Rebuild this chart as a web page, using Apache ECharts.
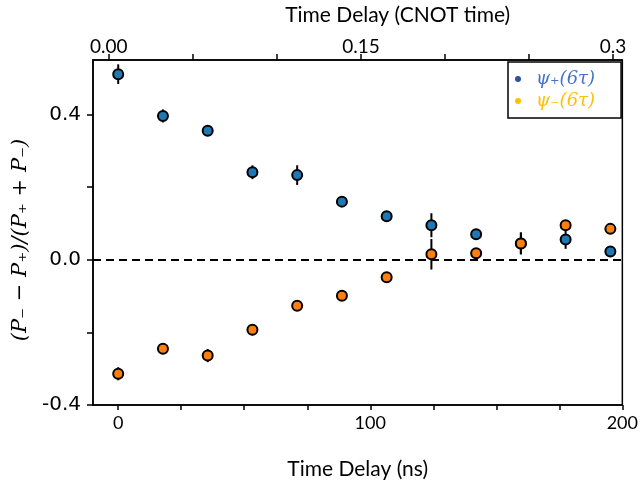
<!DOCTYPE html>
<html>
<head>
<meta charset="utf-8">
<script src="https://cdn.jsdelivr.net/npm/echarts@6/dist/echarts.min.js"></script>
<style>html,body{margin:0;padding:0;background:#fff}#c{width:641px;height:489px}</style>
</head>
<body>
<div id="c"></div>
<script>
// ---- data ----
const delaysNs = [0, 17.75, 35.5, 53.25, 71, 88.75, 106.5, 124.25, 142, 159.75, 177.5, 195.25];
const plusVals = [0.511, 0.396, 0.355, 0.241, 0.233, 0.160, 0.120, 0.095, 0.070, 0.045, 0.056, 0.023];
const plusErr  = [0.027, 0.018, 0.010, 0.019, 0.027, 0.010, 0.010, 0.033, 0.010, 0.030, 0.026, 0.010];
const minusVals = [-0.314, -0.245, -0.264, -0.193, -0.127, -0.099, -0.048, 0.015, 0.018, 0.045, 0.095, 0.085];
const minusErr  = [0.018, 0.015, 0.018, 0.015, 0.010, 0.010, 0.010, 0.042, 0.010, 0.030, 0.010, 0.010];
const seriesNames = ['ψ₊(6τ)', 'ψ₋(6τ)'];

const bottomTicks = [0, 25, 50, 75, 100, 125, 150, 175, 200];
const bottomLabels = [0, 100, 200];
const topTicks = [0, 0.05, 0.1, 0.15, 0.2, 0.25, 0.3];
const topLabelValues = [0, 0.15, 0.3];
const topLabelTexts = ['0.00', '0.15', '0.3'];
const yTicks = [-0.4, -0.2, 0, 0.2, 0.4];
const yLabels = [-0.4, 0, 0.4];

// ---- build ----
const pts = (vals) => delaysNs.map((x, i) => [x, vals[i]]);
const errs = (vals, e) => delaysNs.map((x, i) => [x, vals[i] - e[i], vals[i] + e[i]]);

function errRender(params, api) {
  const p1 = api.coord([api.value(0), api.value(1)]);
  const p2 = api.coord([api.value(0), api.value(2)]);
  return { type: 'line', shape: { x1: p1[0], y1: p1[1], x2: p2[0], y2: p2[1] },
           style: { stroke: '#000', lineWidth: 2 } };
}

const labelFont = 'Lato';
const chart = echarts.init(document.getElementById('c'), null, { renderer: 'canvas' });
chart.setOption({
  animation: false,
  backgroundColor: '#fff',
  grid: { left: 93, right: 14, top: 58, bottom: 84, show: true, borderColor: '#000', borderWidth: 1.5 },
  legend: {
    left: 508, top: 62, orient: 'vertical',
    borderColor: '#000', borderWidth: 1.5, borderRadius: 0,
    padding: [8, 26, 8, 7], itemGap: 4,
    icon: 'circle', itemWidth: 6, itemHeight: 6,
    data: [
      { name: seriesNames[0], itemStyle: { color: '#2f4f9f', borderWidth: 0 }, textStyle: { color: '#4472c4' } },
      { name: seriesNames[1], itemStyle: { color: '#ffc000', borderWidth: 0 }, textStyle: { color: '#ffc000' } }
    ],
    textStyle: { fontFamily: 'DejaVu Serif', fontStyle: 'italic', fontSize: 18, padding: [0, 0, 0, 10] }
  },
  xAxis: [
    {
      type: 'value', position: 'bottom', min: -10, max: 200,
      splitLine: { show: false },
      axisLine: { onZero: false, lineStyle: { color: '#000', width: 1.5 } },
      axisTick: { show: true, length: 5, customValues: bottomTicks, lineStyle: { color: '#000', width: 1.5 } },
      axisLabel: { customValues: bottomLabels, color: '#000', fontFamily: labelFont, fontSize: 18, margin: 9 },
      name: 'Time Delay (ns)', nameLocation: 'middle', nameGap: 54,
      nameTextStyle: { color: '#000', fontFamily: labelFont, fontSize: 21 }
    },
    {
      type: 'value', position: 'top', min: -0.0094, max: 0.3055,
      splitLine: { show: false },
      axisLine: { onZero: false, lineStyle: { color: '#000', width: 1.5 } },
      axisTick: { show: true, length: 6, customValues: topTicks, lineStyle: { color: '#000', width: 1.5 } },
      axisLabel: {
        customValues: topLabelValues, color: '#000', fontFamily: labelFont, fontSize: 19, margin: 4,
        formatter: (v) => { const i = topLabelValues.findIndex(t => Math.abs(t - v) < 1e-9); return i >= 0 ? topLabelTexts[i] : ''; }
      },
      name: 'Time Delay (CNOT time)', nameLocation: 'middle', nameGap: 34,
      nameTextStyle: { color: '#000', fontFamily: labelFont, fontSize: 21, padding: [0, 0, 0, 80] }
    }
  ],
  yAxis: {
    type: 'value', min: -0.4, max: 0.55,
    splitLine: { show: false },
    axisLine: { onZero: false, lineStyle: { color: '#000', width: 1.5 } },
    axisTick: { show: true, length: 6, customValues: yTicks, lineStyle: { color: '#000', width: 1.5 } },
    axisLabel: { customValues: yLabels, color: '#000', fontFamily: 'DejaVu Sans', fontSize: 20, margin: 12,
                 formatter: (v) => v.toFixed(1) },
    name: '(P₋ − P₊)/(P₊ + P₋)', nameLocation: 'middle', nameGap: 56, nameRotate: 90,
    nameTextStyle: { color: '#000', fontFamily: 'DejaVu Serif', fontStyle: 'italic', fontSize: 21, padding: [0, 15, 0, 0] }
  },
  series: [
    {
      type: 'custom', name: 'plusErr', renderItem: errRender, data: errs(plusVals, plusErr),
      encode: { x: 0, y: [1, 2] }, z: 2, silent: true,
      markLine: {
        silent: true, symbol: 'none', label: { show: false },
        lineStyle: { color: '#000', type: [8, 5], width: 2 },
        data: [{ yAxis: 0 }]
      }
    },
    {
      type: 'scatter', name: seriesNames[0], data: pts(plusVals), symbolSize: 10, z: 3,
      itemStyle: { color: '#1f77b4', borderColor: '#000', borderWidth: 2, opacity: 1 }
    },
    {
      type: 'custom', name: 'minusErr', renderItem: errRender, data: errs(minusVals, minusErr),
      encode: { x: 0, y: [1, 2] }, z: 4, silent: true
    },
    {
      type: 'scatter', name: seriesNames[1], data: pts(minusVals), symbolSize: 10, z: 5,
      itemStyle: { color: '#ff7f0e', borderColor: '#000', borderWidth: 2, opacity: 1 }
    }
  ]
});
</script>
</body>
</html>
